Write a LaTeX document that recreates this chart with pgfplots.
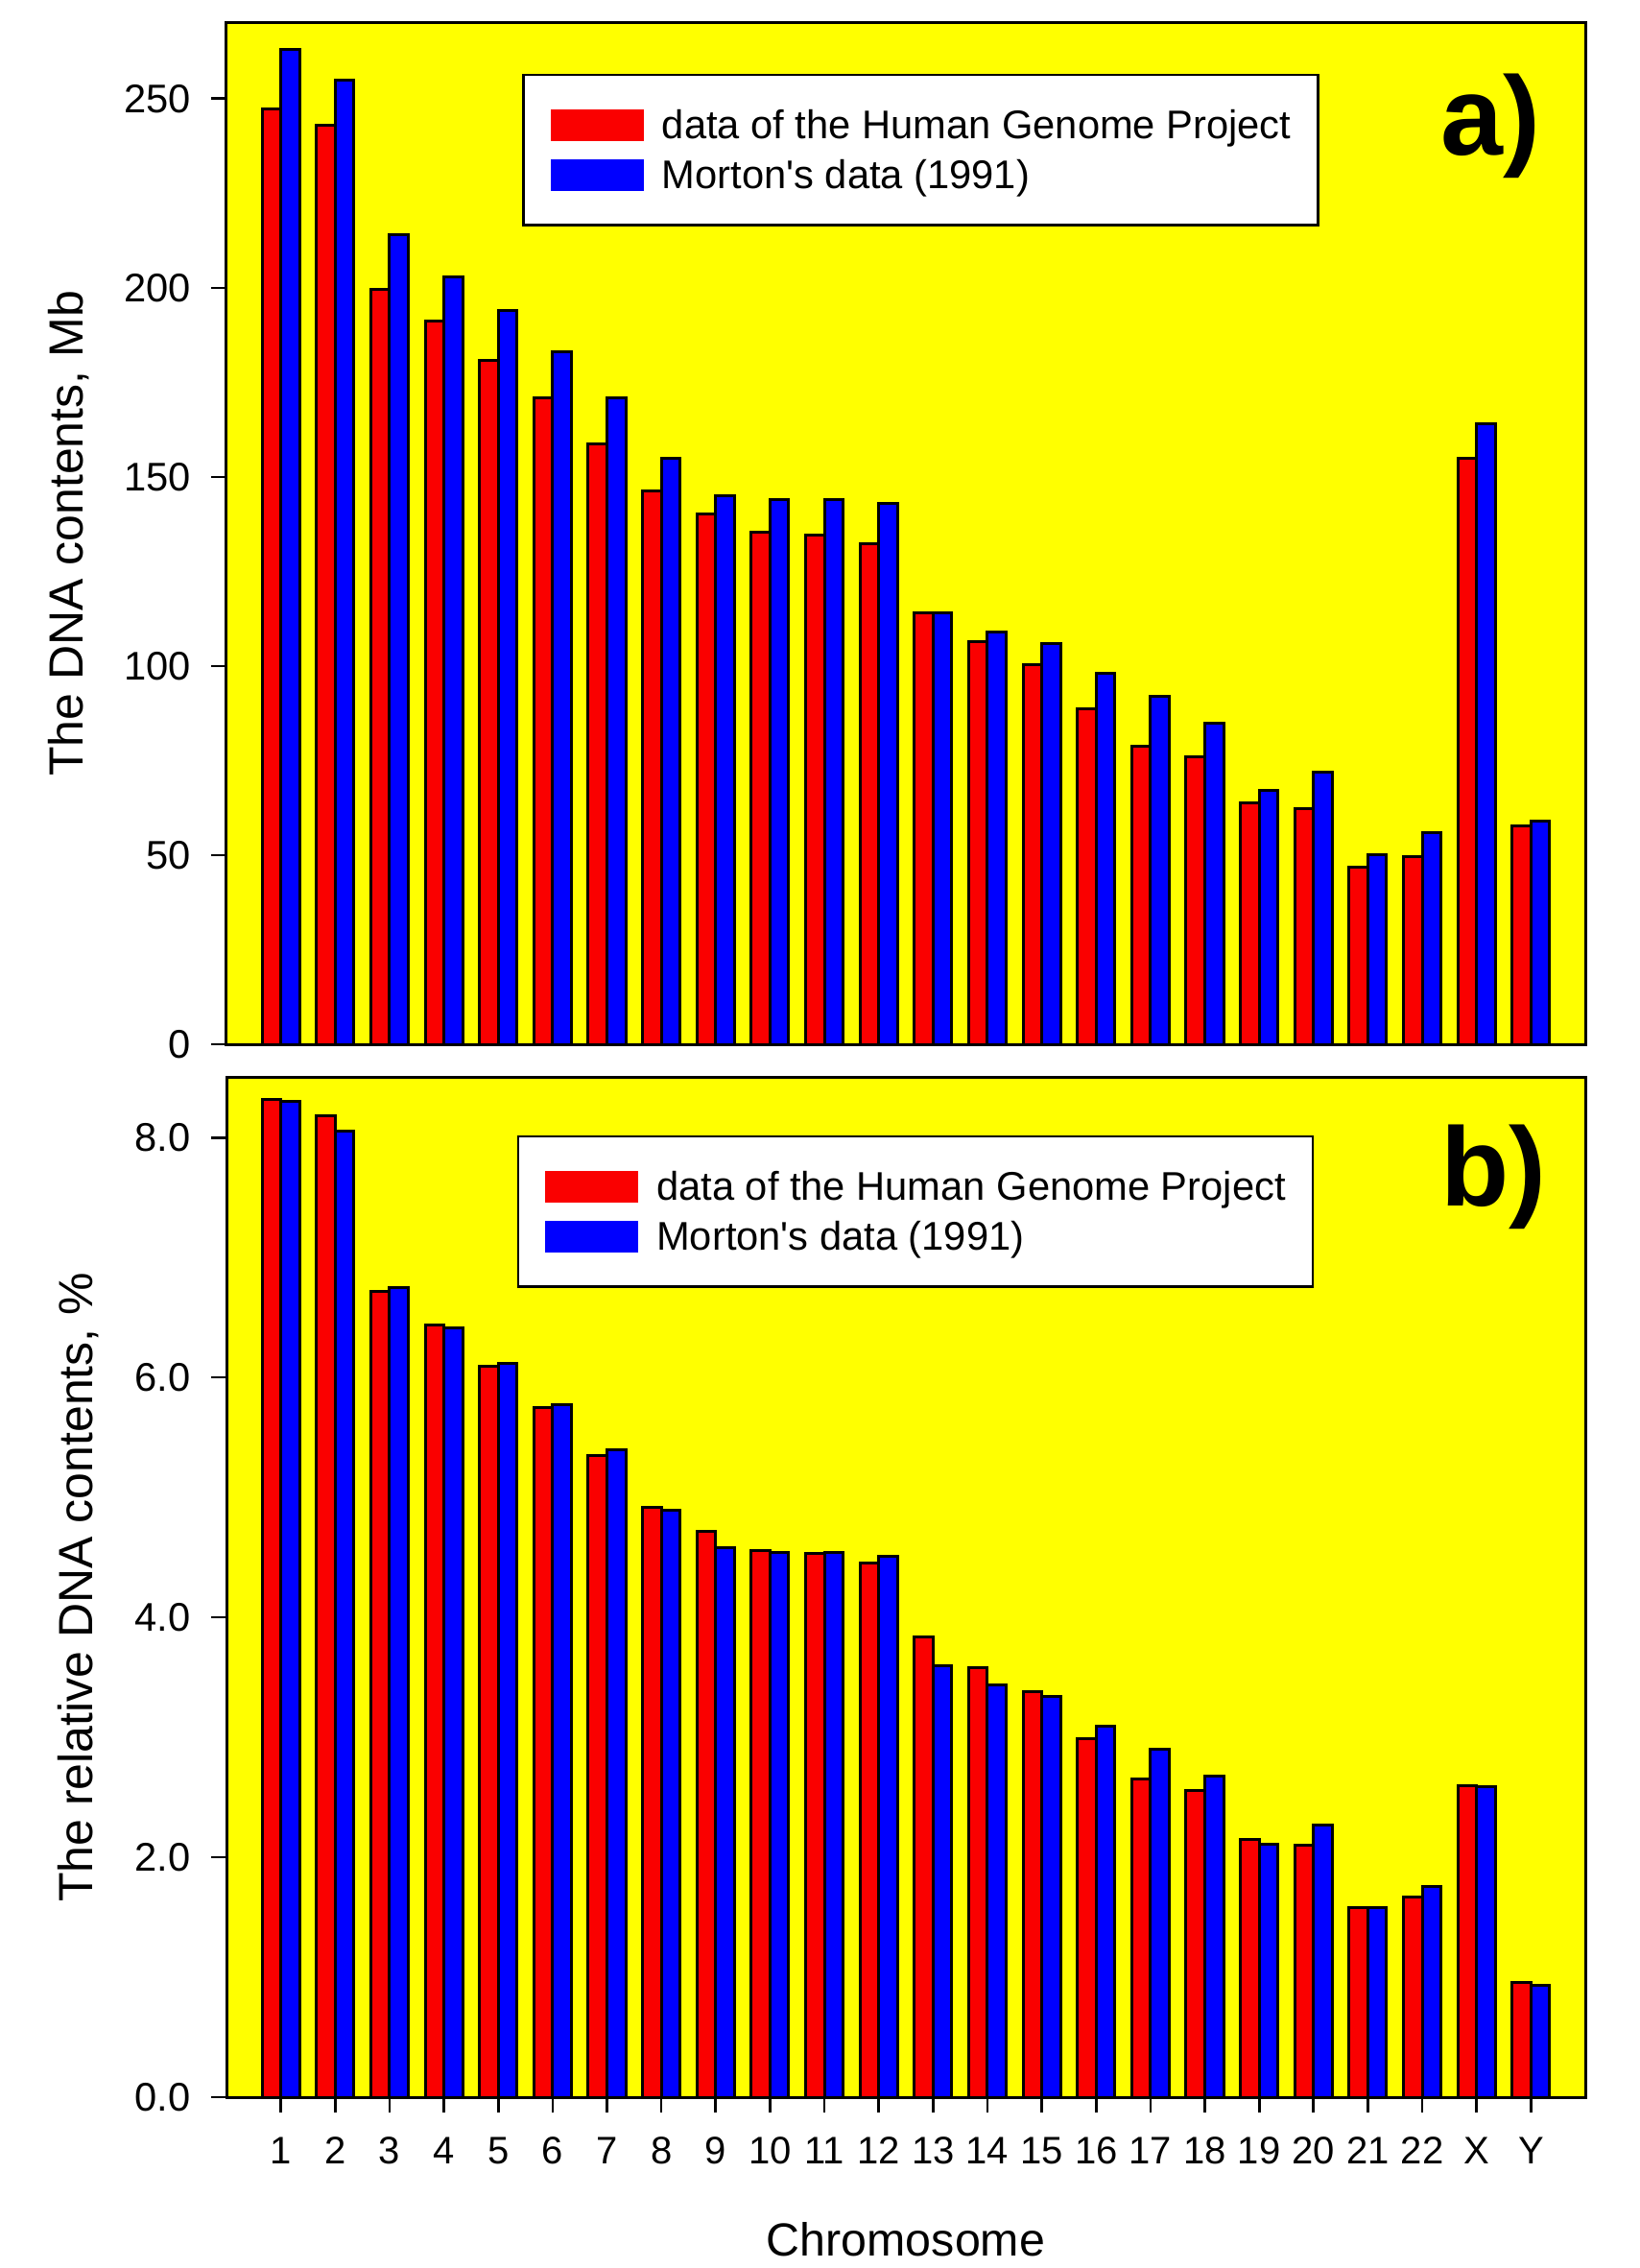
\documentclass[border=0pt]{standalone}
\usepackage{pgfplots}
\pgfplotsset{compat=1.18}
\usepackage{pgfplotstable}
\usepackage{fontspec}
\setmainfont{Liberation Sans}
\definecolor{yel}{RGB}{255,255,0}
\definecolor{bred}{RGB}{250,0,0}
\definecolor{bblue}{RGB}{0,0,255}

\pgfplotstableread{
x hgp mort hgpp mortp
1 247.2 263 8.32 8.30
2 242.9 255 8.18 8.05
3 199.5 214 6.72 6.75
4 191.3 203 6.44 6.41
5 180.8 194 6.09 6.12
6 170.9 183 5.75 5.77
7 158.8 171 5.35 5.40
8 146.3 155 4.92 4.89
9 140.3 145 4.72 4.58
10 135.4 144 4.56 4.54
11 134.5 144 4.53 4.54
12 132.3 143 4.45 4.51
13 114.1 114 3.84 3.60
14 106.4 109 3.58 3.44
15 100.3 106 3.38 3.34
16 88.8 98 2.99 3.09
17 78.8 92 2.65 2.90
18 76.1 85 2.56 2.68
19 63.8 67 2.15 2.11
20 62.4 72 2.10 2.27
21 46.9 50 1.58 1.58
22 49.7 56 1.67 1.76
23 154.9 164 2.60 2.59
24 57.8 59 0.96 0.93
}\data

\begin{document}
\begin{tikzpicture}
\useasboundingbox (0,0) rectangle (512.7pt,-708.9pt);
\pgfplotsset{
  common/.style={
    scale only axis, width=424.8pt,
    xmin=0, xmax=25, ymin=0,
    axis background/.style={fill=yel},
    axis line style={line width=0.9pt},
    ybar, bar width=0.345,
    tick align=outside, major tick length=4.8pt,
    every tick/.style={black, line width=0.8pt},
    ytick pos=left, xtick pos=bottom,
    minor tick num=0,
    yticklabel style={font=\fontsize{12.5}{14}\selectfont, inner sep=0pt, xshift=-6.2pt, /pgf/number format/assume math mode=true},
    xticklabel style={font=\fontsize{12}{14}\selectfont},
    ylabel style={font=\fontsize{15}{18}\selectfont, anchor=base},
    legend style={anchor=north west, draw=black, line width=0.8pt, fill=white,
      inner xsep=8.5pt, inner ysep=10.8pt, row sep=5.8pt, column sep=5.8pt,
      nodes={inner sep=0pt, text height=8.7pt, text depth=0pt, font=\fontsize{12.5}{14}\selectfont}},
    legend cell align=left,
    legend image code/.code={\path[##1,draw=none] (0pt,-4.9pt) rectangle (29pt,4.9pt);},
  },
  redbar/.style={fill=bred, draw=black, line width=0.9pt, bar shift=-0.1725},
  bluebar/.style={fill=bblue, draw=black, line width=0.9pt, bar shift=0.1725},
}
\begin{axis}[common, at={(70.8pt,-326.4pt)}, anchor=south west, height=319.2pt,
  ymax=270, ytick={0,50,100,150,200,250}, xtick=\empty,
  ylabel={The DNA contents, Mb},
  ylabel style={at={(axis description cs:-0.1059,0.5)}},
  legend style={at={(0.2177,0.9505)}}]
\addplot[redbar] table[x=x,y=hgp]{\data};
\addplot[bluebar] table[x=x,y=mort]{\data};
\legend{data of the Human Genome Project, Morton\textquotesingle s data (1991)}
\node[anchor=base west, font=\bfseries\fontsize{35}{40}\selectfont, inner sep=0pt] at (rel axis cs:0.893,0.871) {a)};
\end{axis}
\begin{axis}[common, at={(70.8pt,-655.5pt)}, anchor=south west, height=318.7pt,
  ymax=8.5, ytick={0,2,4,6,8},
  yticklabel style={/pgf/number format/.cd, fixed, fixed zerofill, precision=1},
  xtick={1,2,3,4,5,6,7,8,9,10,11,12,13,14,15,16,17,18,19,20,21,22,23,24},
  xticklabels={1,2,3,4,5,6,7,8,9,10,11,12,13,14,15,16,17,18,19,20,21,22,X,Y},
  xticklabel style={anchor=base, yshift=-16pt},
  ylabel={The relative DNA contents, \%},
  ylabel style={at={(axis description cs:-0.0982,0.5)}},
  xlabel={Chromosome},
  xlabel style={at={(axis description cs:0.5,0)}, anchor=base, yshift=-49.5pt, font=\fontsize{14.5}{17}\selectfont},
  legend style={at={(0.2137,0.9435)}}]
\addplot[redbar] table[x=x,y=hgpp]{\data};
\addplot[bluebar] table[x=x,y=mortp]{\data};
\legend{data of the Human Genome Project, Morton\textquotesingle s data (1991)}
\node[anchor=base west, font=\bfseries\fontsize{35}{40}\selectfont, inner sep=0pt] at (rel axis cs:0.893,0.874) {b)};
\end{axis}
\end{tikzpicture}
\end{document}
